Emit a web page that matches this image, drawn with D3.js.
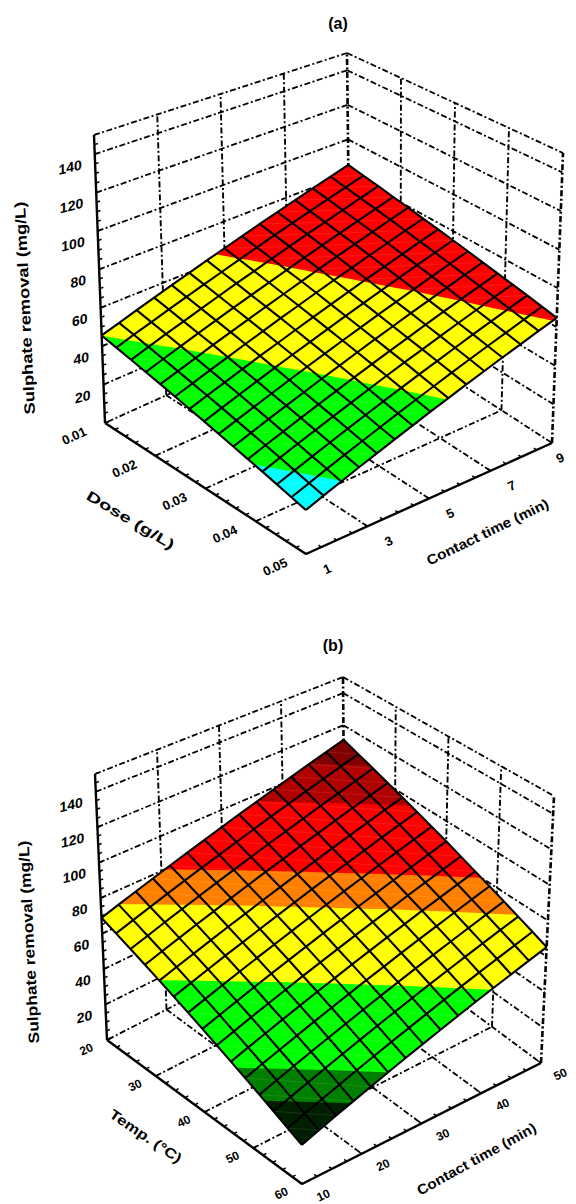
<!DOCTYPE html>
<html>
<head>
<meta charset="utf-8">
<script src="https://cdn.jsdelivr.net/npm/d3@7"></script>
<style>
  body { margin: 0; background: #fff; }
  svg { display: block; font-family: "Liberation Sans", Arial, sans-serif; }
</style>
</head>
<body>
<div id="vis"></div>
<script>
const FRAME_WIDTH = 576;
const FRAME_HEIGHT = 1204;

// panel (a) values
const A_X_TICKS = [0.01, 0.02, 0.03, 0.04, 0.05];
const A_Y_TICKS = [1, 3, 5, 7, 9];
const A_Z_TICKS = [0, 20, 40, 60, 80, 100, 120, 140];
const A_LEVELS = [0, 27, 45.5, 64];
const A_COLORS = ["#00ffff", "#00ff00", "#ffff00", "#ff0000"];
const A_SURFACE = [
  [45.6,48.4,51.3,54.1,56.9,59.7,62.6,65.4,68.2,71.1,73.9,76.7,79.5,82.4,85.2],
  [43.8,46.7,49.5,52.4,55.2,58.1,60.9,63.8,66.6,69.5,72.3,75.2,78.0,80.9,83.7],
  [42.0,44.9,47.8,50.6,53.5,56.4,59.3,62.1,65.0,67.9,70.8,73.6,76.5,79.4,82.3],
  [40.2,43.1,46.0,48.9,51.8,54.7,57.6,60.5,63.4,66.3,69.2,72.1,75.0,77.9,80.8],
  [38.5,41.4,44.3,47.3,50.2,53.1,56.0,58.9,61.9,64.8,67.7,70.6,73.6,76.5,79.4],
  [36.7,39.6,42.6,45.5,48.5,51.4,54.4,57.3,60.3,63.2,66.1,69.1,72.0,75.0,77.9],
  [34.9,37.9,40.8,43.8,46.8,49.7,52.7,55.7,58.6,61.6,64.6,67.5,70.5,73.5,76.4],
  [33.1,36.1,39.1,42.1,45.1,48.1,51.0,54.0,57.0,60.0,63.0,66.0,69.0,72.0,75.0],
  [31.3,34.3,37.3,40.3,43.4,46.4,49.4,52.4,55.4,58.4,61.4,64.4,67.5,70.5,73.5],
  [29.5,32.5,35.6,38.6,41.6,44.7,47.7,50.8,53.8,56.8,59.9,62.9,65.9,69.0,72.0],
  [27.7,30.8,33.8,36.9,39.9,43.0,46.1,49.1,52.2,55.2,58.3,61.4,64.4,67.5,70.5],
  [26.0,29.1,32.2,35.2,38.3,41.4,44.5,47.6,50.7,53.7,56.8,59.9,63.0,66.1,69.1],
  [24.2,27.3,30.4,33.5,36.6,39.7,42.8,45.9,49.0,52.1,55.2,58.4,61.5,64.6,67.7],
  [22.4,25.5,28.7,31.8,34.9,38.0,41.2,44.3,47.4,50.6,53.7,56.8,59.9,63.1,66.2],
  [20.6,23.8,26.9,30.1,33.2,36.4,39.5,42.7,45.8,49.0,52.1,55.3,58.4,61.6,64.7]
];

// panel (b) values
const B_X_TICKS = [20, 30, 40, 50, 60];
const B_Y_TICKS = [10, 20, 30, 40, 50];
const B_Z_TICKS = [0, 20, 40, 60, 80, 100, 120, 140];
const B_LEVELS = [0, 29, 36, 55, 72, 80, 96, 105];
const B_COLORS = ["#001f00", "#008000", "#00ff00", "#ffff00", "#ff8000", "#ff0000", "#b00000", "#800000"];
const B_SURFACE = [
  [68.9,71.9,74.9,77.9,80.9,83.9,86.9,89.9,92.9,95.9,98.9,101.9,104.9,107.9,110.9],
  [65.4,68.4,71.4,74.5,77.5,80.5,83.5,86.5,89.5,92.6,95.6,98.6,101.6,104.6,107.6],
  [61.9,64.9,68.0,71.0,74.0,77.1,80.1,83.1,86.2,89.2,92.2,95.3,98.3,101.3,104.4],
  [58.4,61.5,64.5,67.6,70.6,73.7,76.7,79.8,82.8,85.9,88.9,92.0,95.0,98.1,101.1],
  [54.9,58.0,61.0,64.1,67.2,70.2,73.3,76.4,79.4,82.5,85.6,88.6,91.7,94.8,97.8],
  [51.4,54.5,57.6,60.7,63.7,66.8,69.9,73.0,76.1,79.2,82.2,85.3,88.4,91.5,94.6],
  [47.9,51.0,54.1,57.2,60.3,63.4,66.5,69.6,72.7,75.8,78.9,82.0,85.1,88.2,91.3],
  [44.4,47.5,50.6,53.8,56.9,60.0,63.1,66.2,69.3,72.5,75.6,78.7,81.8,84.9,88.1],
  [40.8,43.9,47.1,50.2,53.3,56.5,59.6,62.7,65.9,69.0,72.1,75.3,78.4,81.5,84.7],
  [37.3,40.5,43.6,46.8,49.9,53.1,56.2,59.4,62.5,65.7,68.8,72.0,75.1,78.3,81.4],
  [33.8,37.0,40.1,43.3,46.5,49.6,52.8,56.0,59.1,62.3,65.5,68.6,71.8,75.0,78.2],
  [30.3,33.5,36.7,39.9,43.0,46.2,49.4,52.6,55.8,59.0,62.2,65.3,68.5,71.7,74.9],
  [26.8,30.0,33.2,36.4,39.6,42.8,46.0,49.2,52.4,55.6,58.8,62.0,65.2,68.4,71.6],
  [23.3,26.5,29.7,32.9,36.2,39.4,42.6,45.8,49.0,52.3,55.5,58.7,61.9,65.1,68.4],
  [19.8,23.0,26.3,29.5,32.7,36.0,39.2,42.4,45.7,48.9,52.2,55.4,58.6,61.9,65.1]
];

const Z_DOMAIN = [0, 150];
const DASH = "6 2.5 2 2.5";

const FRAME = d3.select("#vis")
  .append("svg")
    .attr("width", FRAME_WIDTH)
    .attr("height", FRAME_HEIGHT);

FRAME.append("rect")
    .attr("width", FRAME_WIDTH)
    .attr("height", FRAME_HEIGHT)
    .attr("fill", "#fff");

const lerp = (a, b, t) => [a[0] + (b[0] - a[0]) * t, a[1] + (b[1] - a[1]) * t];

function drawPanel(cfg) {
  const G = FRAME.append("g");

  // box corners on screen: floor and roof, in left/front/right/back order
  const project = (u, v, w) => {
    const floor = lerp(lerp(cfg.floor.left, cfg.floor.back, v), lerp(cfg.floor.front, cfg.floor.right, v), u);
    const roof = lerp(lerp(cfg.roof.left, cfg.roof.back, v), lerp(cfg.roof.front, cfg.roof.right, v), u);
    return lerp(floor, roof, w);
  };

  const X_SCALE = d3.scaleLinear().domain(d3.extent(cfg.xTicks)).range([0, 1]);
  const Y_SCALE = d3.scaleLinear().domain(d3.extent(cfg.yTicks)).range([0, 1]);
  const Z_SCALE = d3.scaleLinear().domain(Z_DOMAIN).range([0, 1]);
  const n = cfg.surface.length;
  const GRID_SCALE = d3.scaleLinear().domain([0, n - 1]).range([0, 1]);

  const line = d3.line();
  const seg = (a, b, dash, width) => G.append("path")
      .attr("d", line([a, b]))
      .attr("fill", "none")
      .attr("stroke", "#000")
      .attr("stroke-width", width)
      .attr("stroke-dasharray", dash);

  // floor grid
  cfg.xTicks.slice(1, -1).forEach((d) => seg(project(X_SCALE(d), 0, 0), project(X_SCALE(d), 1, 0), DASH, 1.8));
  cfg.yTicks.slice(1, -1).forEach((d) => seg(project(0, Y_SCALE(d), 0), project(1, Y_SCALE(d), 0), DASH, 1.8));
  seg(project(0, 1, 0), project(0, 0, 0), DASH, 1.8);
  seg(project(0, 1, 0), project(1, 1, 0), DASH, 1.8);

  // walls
  cfg.zTicks.slice(1).concat([Z_DOMAIN[1]]).forEach((d) => {
    seg(project(0, 0, Z_SCALE(d)), project(0, 1, Z_SCALE(d)), DASH, 1.8);
    seg(project(0, 1, Z_SCALE(d)), project(1, 1, Z_SCALE(d)), DASH, 1.8);
  });
  cfg.yTicks.slice(1, -1).forEach((d) => seg(project(0, Y_SCALE(d), 0), project(0, Y_SCALE(d), 1), DASH, 1.9));
  cfg.xTicks.slice(1, -1).forEach((d) => seg(project(X_SCALE(d), 1, 0), project(X_SCALE(d), 1, 1), DASH, 1.9));
  seg(project(0, 1, 0), project(0, 1, 1), DASH, 2.6);
  seg(project(1, 1, 0), project(1, 1, 1), DASH, 2.6);

  // solid axes
  seg(project(0, 0, 0), project(0, 0, 1), null, 2.4);
  seg(project(0, 0, 0), project(1, 0, 0), null, 2.4);
  seg(project(1, 0, 0), project(1, 1, 0), null, 2.4);

  // minor ticks
  const xStep = (cfg.xTicks[1] - cfg.xTicks[0]) / 5;
  const yStep = (cfg.yTicks[1] - cfg.yTicks[0]) / 4;
  const zStep = (cfg.zTicks[1] - cfg.zTicks[0]) / 4;
  d3.range(cfg.xTicks[0], cfg.xTicks[cfg.xTicks.length - 1] + xStep / 2, xStep).forEach((d) => {
    seg(project(X_SCALE(d), 0, 0), project(X_SCALE(d), 0.014, 0), null, 1.5);
  });
  d3.range(cfg.yTicks[0], cfg.yTicks[cfg.yTicks.length - 1] + yStep / 2, yStep).forEach((d) => {
    seg(project(1, Y_SCALE(d), 0), project(0.986, Y_SCALE(d), 0), null, 1.5);
  });
  d3.range(0, Z_DOMAIN[1] + zStep / 2, zStep).forEach((d) => {
    seg(project(0, 0, Z_SCALE(d)), project(0, 0.014, Z_SCALE(d)), null, 1.5);
  });

  // surface: filled bands from d3.contours, grid is rows along x, columns along y
  const flat = cfg.surface.flat();
  const valueAt = (r, c) => {
    const r0 = Math.min(Math.floor(r), n - 2), c0 = Math.min(Math.floor(c), n - 2);
    const fr = r - r0, fc = c - c0;
    const top = cfg.surface[r0][c0] * (1 - fc) + cfg.surface[r0][c0 + 1] * fc;
    const bot = cfg.surface[r0 + 1][c0] * (1 - fc) + cfg.surface[r0 + 1][c0 + 1] * fc;
    return top * (1 - fr) + bot * fr;
  };
  const surfacePoint = (r, c) => project(GRID_SCALE(r), GRID_SCALE(c), Z_SCALE(valueAt(r, c)));

  const clampGrid = d3.scaleLinear().domain([0.5, n - 0.5]).range([0, n - 1]).clamp(true);
  const contours = d3.contours().size([n, n]).thresholds(cfg.levels)(flat);

  G.selectAll("path.band")
    .data(contours)
    .enter()
    .append("path")
      .attr("class", "band")
      .attr("fill", (d, i) => cfg.colors[i])
      .attr("d", (d) => d.coordinates.map((poly) => poly.map((ring) =>
        line(ring.map((p) => surfacePoint(clampGrid(p[1]), clampGrid(p[0])))) + "Z").join("")).join(""));

  // faint seams of the triangulated cells
  const idx = d3.range(n);
  idx.slice(0, -1).forEach((r) => idx.slice(0, -1).forEach((c) => {
    G.append("path")
      .attr("d", line([surfacePoint(r, c), surfacePoint(r + 1, c + 1)]))
      .attr("stroke", "#fff")
      .attr("stroke-opacity", 0.14)
      .attr("stroke-width", 0.7);
  }));

  // surface mesh
  idx.forEach((r) => {
    G.append("path")
      .attr("d", line(idx.map((c) => surfacePoint(r, c))))
      .attr("fill", "none").attr("stroke", "#000").attr("stroke-width", 2.1);
    G.append("path")
      .attr("d", line(idx.map((c) => surfacePoint(c, r))))
      .attr("fill", "none").attr("stroke", "#000").attr("stroke-width", 2.1);
  });

  // tick labels
  const label = (text, p, size, transform, anchor) => G.append("text")
      .attr("transform", "translate(" + p[0] + "," + p[1] + ") " + transform)
      .attr("text-anchor", anchor)
      .attr("font-size", size)
      .attr("font-weight", "bold")
      .attr("fill", "#000")
      .text(text);

  cfg.xTicks.forEach((d) => {
    const p = project(X_SCALE(d), 0, 0);
    label(cfg.xFormat(d), [p[0] + cfg.xOffset[0], p[1] + cfg.xOffset[1]], cfg.tickSize, "rotate(-25)", "middle");
  });
  cfg.yTicks.forEach((d) => {
    const p = project(1, Y_SCALE(d), 0);
    label(String(d), [Math.min(p[0] + cfg.yOffset[0], 562), p[1] + cfg.yOffset[1]], cfg.tickSize, "rotate(-25)", "middle");
  });
  // the bottom corner carries the first x label only
  cfg.zTicks.slice(1).forEach((d) => {
    const p = project(0, 0, Z_SCALE(d));
    label(String(d), [p[0] - 13, p[1] + 15], 14, "skewY(-14)", "end");
  });

  // axis titles, stretched to the length they have in the picture
  const title = (t) => G.append("text")
      .attr("transform", "translate(" + t.at[0] + "," + t.at[1] + ") rotate(" + t.angle + ")")
      .attr("text-anchor", "middle")
      .attr("dominant-baseline", "middle")
      .attr("font-size", t.size)
      .attr("font-weight", "bold")
      .attr("textLength", t.length)
      .attr("lengthAdjust", "spacingAndGlyphs")
      .text(t.text);
  cfg.titles.forEach(title);

  FRAME.append("text")
      .attr("x", cfg.caption.at[0])
      .attr("y", cfg.caption.at[1])
      .attr("text-anchor", "middle")
      .attr("font-size", 16)
      .attr("font-weight", "bold")
      .text(cfg.caption.text);
}

drawPanel({
  xTicks: A_X_TICKS, yTicks: A_Y_TICKS, zTicks: A_Z_TICKS,
  levels: A_LEVELS, colors: A_COLORS, surface: A_SURFACE,
  xFormat: d3.format(".2f"),
  floor: {left: [105, 423], front: [306, 554], right: [552, 443], back: [350, 312]},
  roof: {left: [94, 135], front: [305, 234], right: [563, 153], back: [347, 53]},
  xOffset: [-29, 17], yOffset: [23, 19], tickSize: 13,
  titles: [
    {text: "Sulphate removal (mg/L)", at: [26, 308], angle: -92.7, length: 213, size: 15},
    {text: "Dose (g/L)", at: [130, 521], angle: 31, length: 100, size: 14},
    {text: "Contact time (min)", at: [488, 533], angle: -26, length: 134, size: 14}
  ],
  caption: {text: "(a)", at: [338, 29]}
});

drawPanel({
  xTicks: B_X_TICKS, yTicks: B_Y_TICKS, zTicks: B_Z_TICKS,
  levels: B_LEVELS, colors: B_COLORS, surface: B_SURFACE,
  xFormat: String,
  floor: {left: [107, 1040], front: [302, 1184], right: [541, 1063], back: [345, 918]},
  roof: {left: [95, 774], front: [300, 888], right: [554, 796], back: [343, 677]},
  xOffset: [-19, 13], yOffset: [23, 15], tickSize: 12,
  titles: [
    {text: "Sulphate removal (mg/L)", at: [30, 942], angle: -93, length: 203, size: 15},
    {text: "Temp. (°C)", at: [145, 1137], angle: 34, length: 84, size: 14},
    {text: "Contact time (min)", at: [477, 1160], angle: -29, length: 134, size: 14}
  ],
  caption: {text: "(b)", at: [333, 651]}
});
</script>
</body>
</html>
